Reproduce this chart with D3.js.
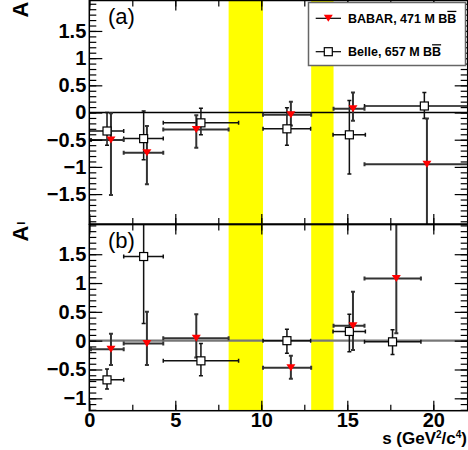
<!DOCTYPE html>
<html>
<head>
<meta charset="utf-8">
<script src="https://cdn.jsdelivr.net/npm/d3@7/dist/d3.min.js"></script>
<style>
body { margin: 0; background: #fff; }
text { font-family: "Liberation Sans", Arial, Helvetica, sans-serif; }
</style>
</head>
<body>
<div id="chart"></div>
<script>
// ---- data ----
// panel (a)
const babarA_s     = [1.26, 3.35, 6.22, 11.72, 15.33, 19.63]
const babarA_lo    = [0.1, 2.0, 4.3, 10.1, 14.2, 16.0]
const babarA_hi    = [2.0, 4.3, 8.1, 12.9, 16.0, 23.0]
const babarA_val   = [-0.505, -0.74, -0.31, -0.04, 0.07, -0.95]
const babarA_up    = [0.49, 0.49, 0.26, 0.24, 0.30, 0.84]
const babarA_dn    = [1.01, 0.58, 0.34, 0.20, 0.22, 1.30]

const belleA_s     = [1.03, 3.16, 6.49, 11.49, 15.12, 19.48]
const belleA_lo    = [0.0, 2.0, 4.3, 10.1, 14.17, 16.0]
const belleA_hi    = [2.0, 4.3, 8.68, 12.87, 16.05, 23.0]
const belleA_val   = [-0.34, -0.48, -0.19, -0.30, -0.41, 0.12]
const belleA_up    = [0.34, 0.51, 0.27, 0.39, 0.63, 0.25]
const belleA_dn    = [0.26, 0.39, 0.22, 0.30, 0.72, 0.23]

// panel (b)
const babarB_s     = [1.26, 3.35, 6.22, 11.72, 15.33, 17.85]
const babarB_lo    = [0.1, 2.0, 4.3, 10.1, 14.2, 16.0]
const babarB_hi    = [2.0, 4.3, 8.1, 12.9, 16.0, 19.28]
const babarB_val   = [-0.15, -0.05, 0.04, -0.47, 0.26, 1.08]
const babarB_up    = [0.27, 0.55, 0.42, 0.21, 0.59, 0.95]
const babarB_dn    = [0.27, 0.37, 0.33, 0.19, 0.42, 0.95]

const belleB_s     = [1.03, 3.16, 6.49, 11.49, 15.12, 17.63]
const belleB_lo    = [0.0, 2.0, 4.3, 10.1, 14.17, 16.0]
const belleB_hi    = [2.0, 4.3, 8.68, 12.87, 16.05, 19.28]
const belleB_val   = [-0.68, 1.46, -0.35, 0.0, 0.16, -0.02]
const belleB_up    = [0.19, 0.70, 0.30, 0.20, 0.30, 0.21]
const belleB_dn    = [0.16, 1.16, 0.26, 0.22, 0.35, 0.22]

// charmonium veto regions
const vetoLo = [8.1, 12.9]
const vetoHi = [10.1, 14.2]

const xTicks = [0, 5, 10, 15, 20]
const yTicksA = [-1.5, -1, -0.5, 0, 0.5, 1, 1.5]
const yTicksB = [-1, -0.5, 0, 0.5, 1, 1.5]

const legendLabels = ["BABAR, 471 M B", "Belle, 657 M B"]

// ---- layout ----
const W = 468, H = 450
const X_LEFT = 89.3, X_RIGHT = 467.7

function zipPoints(s, lo, hi, val, up, dn) {
	return s.map((d, i) => ({ s: d, lo: lo[i], hi: hi[i], val: val[i], up: up[i], dn: dn[i] }))
}

const panels = [
	{
		name: "a", top: 0.5, bottom: 224, domain: [-2.05, 2.06], ticks: yTicksA,
		minor: d3.range(-2.0, 2.05, 0.1), zeroColor: "#000", zeroWidth: 1.3, labels: false,
		babar: zipPoints(babarA_s, babarA_lo, babarA_hi, babarA_val, babarA_up, babarA_dn),
		belle: zipPoints(belleA_s, belleA_lo, belleA_hi, belleA_val, belleA_up, belleA_dn)
	},
	{
		name: "b", top: 224.6, bottom: 410.7, domain: [-1.215, 2.014], ticks: yTicksB,
		minor: d3.range(-1.2, 2.05, 0.1), zeroColor: "#777", zeroWidth: 2.2, labels: true,
		babar: zipPoints(babarB_s, babarB_lo, babarB_hi, babarB_val, babarB_up, babarB_dn),
		belle: zipPoints(belleB_s, belleB_lo, belleB_hi, belleB_val, belleB_up, belleB_dn)
	}
]

const svg = d3.select("#chart")
	.append("svg")
		.attr("width", W)
		.attr("height", H)

const x = d3.scaleLinear().domain([0, 22]).range([X_LEFT, X_RIGHT])

const triangle = "M-4.5,-3.5L4.5,-3.5L0,3.5Z"

function drawErrors(g, pts, y, color, width) {
	const cap = 2
	pts.forEach(d => {
		const cx = x(d.s), cy = y(d.val)
		const x0 = x(d.lo), x1 = x(d.hi)
		const yTop = y(d.val + d.up), yBot = y(d.val - d.dn)
		const segs = [
			[x0, cy, x1, cy],
			[cx, yTop, cx, yBot],
			[x0, cy - cap, x0, cy + cap],
			[x1, cy - cap, x1, cy + cap],
			[cx - cap, yTop, cx + cap, yTop],
			[cx - cap, yBot, cx + cap, yBot]
		]
		g.selectAll(null)
			.data(segs)
			.enter().append("line")
				.attr("x1", s => s[0]).attr("y1", s => s[1])
				.attr("x2", s => s[2]).attr("y2", s => s[3])
				.attr("stroke", color)
				.attr("stroke-width", width)
	})
}

panels.forEach(p => {
	const y = d3.scaleLinear().domain(p.domain).range([p.bottom, p.top])
	const g = svg.append("g")

	g.append("clipPath")
		.attr("id", "clip-" + p.name)
		.append("rect")
			.attr("x", X_LEFT).attr("y", p.top)
			.attr("width", X_RIGHT - X_LEFT).attr("height", p.bottom - p.top)

	const plot = g.append("g").attr("clip-path", `url(#clip-${p.name})`)

	// veto bands
	plot.selectAll("rect.veto")
		.data(vetoLo)
		.enter().append("rect")
			.attr("class", "veto")
			.attr("x", (d, i) => x(d))
			.attr("width", (d, i) => x(vetoHi[i]) - x(d))
			.attr("y", p.top)
			.attr("height", p.bottom - p.top)
			.attr("fill", "#ffff00")

	// zero line
	plot.append("line")
		.attr("x1", X_LEFT).attr("x2", X_RIGHT)
		.attr("y1", y(0)).attr("y2", y(0))
		.attr("stroke", p.zeroColor)
		.attr("stroke-width", p.zeroWidth)

	drawErrors(plot, p.belle, y, "#111", 1.5)
	drawErrors(plot, p.babar, y, "#333", 2)

	plot.selectAll("rect.belle")
		.data(p.belle)
		.enter().append("rect")
			.attr("class", "belle")
			.attr("x", d => x(d.s) - 4)
			.attr("y", d => y(d.val) - 4)
			.attr("width", 8).attr("height", 8)
			.attr("fill", "#fff")
			.attr("stroke", "#000")
			.attr("stroke-width", 1.2)

	plot.selectAll("path.babar")
		.data(p.babar)
		.enter().append("path")
			.attr("class", "babar")
			.attr("d", triangle)
			.attr("transform", d => `translate(${x(d.s)},${y(d.val)})`)
			.attr("fill", "#ff0000")

	// axes: ticks pointing inwards on all four sides
	const leftMinor = d3.axisLeft(y).tickValues(p.minor).tickSizeInner(-7).tickSizeOuter(0).tickFormat("")
	const leftMajor = d3.axisLeft(y).tickValues(p.ticks).tickSizeInner(-13).tickSizeOuter(0).tickPadding(3)
		.tickFormat(d3.format("~g"))
	const rightMinor = d3.axisRight(y).tickValues(p.minor).tickSizeInner(-7).tickSizeOuter(0).tickFormat("")
	const rightMajor = d3.axisRight(y).tickValues(p.ticks).tickSizeInner(-13).tickSizeOuter(0).tickFormat("")

	const xMinor = d3.range(0, 22.1, 2.5)
	const botMinor = d3.axisBottom(x).tickValues(xMinor).tickSizeInner(-6).tickSizeOuter(0).tickFormat("")
	const botMajor = d3.axisBottom(x).tickValues(xTicks).tickSizeInner(-10).tickSizeOuter(0).tickPadding(2)
		.tickFormat(p.labels ? d3.format("d") : "")
	const topMinor = d3.axisTop(x).tickValues(xMinor).tickSizeInner(-6).tickSizeOuter(0).tickFormat("")
	const topMajor = d3.axisTop(x).tickValues(xTicks).tickSizeInner(-10).tickSizeOuter(0).tickFormat("")

	const axes = [
		[leftMinor, `translate(${X_LEFT},0)`],
		[leftMajor, `translate(${X_LEFT},0)`],
		[rightMinor, `translate(${X_RIGHT},0)`],
		[rightMajor, `translate(${X_RIGHT},0)`],
		[botMinor, `translate(0,${p.bottom})`],
		[botMajor, `translate(0,${p.bottom})`],
		[topMinor, `translate(0,${p.top})`],
		[topMajor, `translate(0,${p.top})`]
	]
	axes.forEach(([ax, tr]) => {
		const a = g.append("g").attr("transform", tr).call(ax)
		a.select(".domain").remove()
		a.selectAll("line").attr("stroke", "#000").attr("stroke-width", 1.2)
		a.selectAll("text")
			.attr("fill", "#000")
			.attr("font-size", 20)
			.attr("font-weight", "bold")
			.attr("font-family", "'Liberation Sans', Arial, sans-serif")
	})

	// frame
	g.append("rect")
		.attr("x", X_LEFT).attr("y", p.top)
		.attr("width", X_RIGHT - X_LEFT).attr("height", p.bottom - p.top)
		.attr("fill", "none")
		.attr("stroke", "#000")
		.attr("stroke-width", 1.5)

	// panel tag
	g.append("text")
		.attr("x", 108)
		.attr("y", p.top + 23)
		.attr("font-size", 22)
		.text(`(${p.name})`)

	// y title  A_I
	const yt = g.append("text")
		.attr("transform", `translate(28,${p.top - 3}) rotate(-90)`)
		.attr("text-anchor", "end")
		.attr("font-size", 22)
		.attr("font-weight", "bold")
	yt.append("tspan").text("A")
	yt.append("tspan").attr("font-size", 11).attr("dy", -3).attr("dx", 1).text("I")
})

// x title
const xt = svg.append("text")
	.attr("x", 467)
	.attr("y", 444)
	.attr("text-anchor", "end")
	.attr("font-size", 17)
	.attr("font-weight", "bold")
xt.append("tspan").text("s (GeV")
xt.append("tspan").attr("font-size", 10).attr("dy", -6).text("2")
xt.append("tspan").attr("dy", 6).text("/c")
xt.append("tspan").attr("font-size", 10).attr("dy", -6).text("4")
xt.append("tspan").attr("dy", 6).text(")")

// legend
const leg = svg.append("g")
leg.append("rect")
	.attr("x", 308.5).attr("y", 2.5)
	.attr("width", 157).attr("height", 63)
	.attr("fill", "#fff")
	.attr("stroke", "#666")
	.attr("stroke-width", 1.5)

const legRows = [18.3, 51.7]
legRows.forEach((ly, i) => {
	leg.append("line")
		.attr("x1", 315.7).attr("x2", 341)
		.attr("y1", ly).attr("y2", ly)
		.attr("stroke", "#000").attr("stroke-width", 1.2)
	if (i === 0) {
		leg.append("path")
			.attr("d", triangle)
			.attr("transform", `translate(328.3,${ly})`)
			.attr("fill", "#ff0000")
	} else {
		leg.append("rect")
			.attr("x", 324.3).attr("y", ly - 4)
			.attr("width", 8).attr("height", 8)
			.attr("fill", "#fff").attr("stroke", "#000").attr("stroke-width", 1.2)
	}
	const t = leg.append("text")
		.attr("x", 348)
		.attr("y", ly + 4.5)
		.attr("font-size", 12.5)
		.attr("font-weight", "bold")
	t.append("tspan").text(legendLabels[i])
	t.append("tspan").attr("text-decoration", "overline").style("text-decoration", "overline").text("B")
})
</script>
</body>
</html>
